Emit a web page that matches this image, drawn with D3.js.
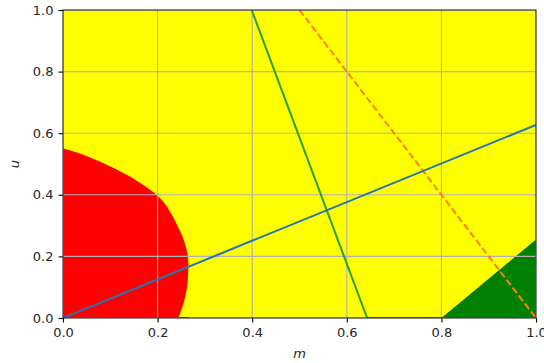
<!DOCTYPE html>
<html><head><meta charset="utf-8">
<script src="https://cdn.jsdelivr.net/npm/d3@7"></script>
<style>body{margin:0;background:#fff;}svg{display:block;}</style>
</head><body>
<svg id="c" width="544" height="363"></svg>
<script>
// Tick labels
const xTicks = [0, 0.2, 0.4, 0.6, 0.8, 1.0];
const yTicks = [0, 0.2, 0.4, 0.6, 0.8, 1.0];
// Red region boundary (m, u)
const redM = [0, 0.03, 0.064, 0.099, 0.135, 0.165, 0.19, 0.207, 0.221, 0.233, 0.242, 0.252, 0.259, 0.264, 0.265, 0.263, 0.257, 0.250, 0.244];
const redU = [0.551, 0.537, 0.517, 0.493, 0.465, 0.437, 0.41, 0.386, 0.359, 0.327, 0.299, 0.267, 0.235, 0.2, 0.16, 0.11, 0.06, 0.025, 0.0];
// Green region (m, u)
const greenM = [0.8, 1.0, 1.0];
const greenU = [0.0, 0.0, 0.255];
// Lines
const blueM = [0, 1];   const blueU = [0, 0.627];
const lineGM = [0.399, 0.643, 1.0]; const lineGU = [1.0, 0.0, 0.0];
const orangeM = [0.5, 1.0]; const orangeU = [1.0, 0.0];
const redBaseM = [0.244, 0.266]; const redBaseU = [0, 0];

const svg = d3.select('#c');
const L = 63, R = 536, T = 10, B = 318;
const x = d3.scaleLinear().domain([0, 1]).range([L, R]);
const y = d3.scaleLinear().domain([0, 1]).range([B, T]);
const font = 'DejaVu Sans, sans-serif';

const clip = svg.append('clipPath').attr('id', 'clp');
clip.append('rect').attr('x', L).attr('y', T).attr('width', R - L).attr('height', B - T);

// background
svg.append('rect').attr('x', L).attr('y', T).attr('width', R - L).attr('height', B - T).attr('fill', '#ffff00');

const line = d3.line().x(d => x(d[0])).y(d => y(d[1]));
const smooth = d3.line().x(d => x(d[0])).y(d => y(d[1])).curve(d3.curveCatmullRom.alpha(0.5));
const zip = (a, b) => a.map((v, i) => [v, b[i]]);

const g = svg.append('g').attr('clip-path', 'url(#clp)');
// red region
g.append('path').attr('d', smooth(zip(redM, redU)) + `L${x(0)},${y(0)}Z`).attr('fill', '#ff0000');
// green region
g.append('path').attr('d', line(zip(greenM, greenU)) + 'Z').attr('fill', '#008000');

// grid
xTicks.forEach(t => g.append('line').attr('x1', x(t)).attr('x2', x(t)).attr('y1', T).attr('y2', B)
  .attr('stroke', '#b0b0b0').attr('stroke-width', 1.1));
yTicks.forEach(t => g.append('line').attr('y1', y(t)).attr('y2', y(t)).attr('x1', L).attr('x2', R)
  .attr('stroke', '#b0b0b0').attr('stroke-width', 1.1));

// lines
g.append('path').attr('d', line(zip(lineGM, lineGU))).attr('fill', 'none').attr('stroke', '#2ca02c').attr('stroke-width', 2);
g.append('path').attr('d', line(zip(redBaseM, redBaseU))).attr('fill', 'none').attr('stroke', '#ff0000').attr('stroke-width', 2);
g.append('path').attr('d', line(zip(orangeM, orangeU))).attr('fill', 'none').attr('stroke', '#ff7f0e').attr('stroke-width', 2)
  .attr('stroke-dasharray', '7,3');
g.append('path').attr('d', line(zip(blueM, blueU))).attr('fill', 'none').attr('stroke', '#1f77b4').attr('stroke-width', 2);

// axes
const xa = svg.append('g').attr('transform', `translate(0,${B})`)
  .call(d3.axisBottom(x).tickValues(xTicks).tickFormat(d3.format('.1f')).tickSize(4.5).tickPadding(5));
const ya = svg.append('g').attr('transform', `translate(${L},0)`)
  .call(d3.axisLeft(y).tickValues(yTicks).tickFormat(d3.format('.1f')).tickSize(4.5).tickPadding(5));
[xa, ya].forEach(a => {
  a.select('.domain').remove();
  a.selectAll('.tick line').attr('stroke', '#000').attr('stroke-width', 1.1);
  a.selectAll('.tick text').attr('font-family', font).attr('font-size', 13).attr('fill', '#262626');
});

// spines
svg.append('rect').attr('x', L).attr('y', T).attr('width', R - L).attr('height', B - T)
  .attr('fill', 'none').attr('stroke', '#262626').attr('stroke-width', 1.1);

// axis labels
svg.append('text').attr('x', (L + R) / 2).attr('y', 358).attr('text-anchor', 'middle')
  .attr('font-family', font).attr('font-style', 'italic').attr('font-size', 13).attr('fill', '#262626').text('m');
svg.append('text').attr('transform', `translate(19,${(T + B) / 2}) rotate(-90)`).attr('text-anchor', 'middle')
  .attr('font-family', font).attr('font-style', 'italic').attr('font-size', 13).attr('fill', '#262626').text('u');
</script>
</body></html>
